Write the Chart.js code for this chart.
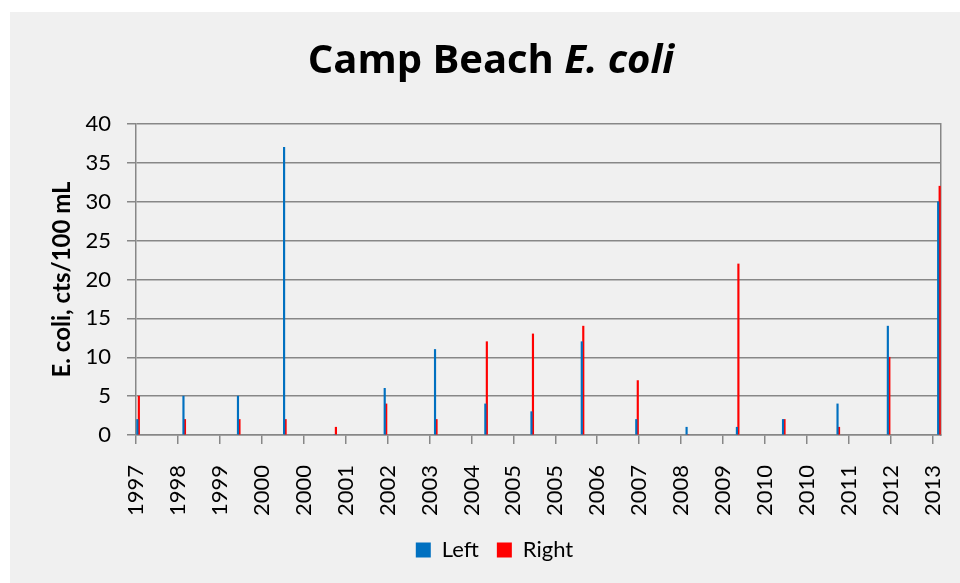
<!DOCTYPE html>
<html>
<head>
<meta charset="utf-8">
<title>Camp Beach E. coli</title>
<script src="https://cdn.jsdelivr.net/npm/chart.js@4.4.1/dist/chart.umd.min.js"></script>
<style>
  html, body { margin: 0; padding: 0; background: #fff; }
  #wrap { position: absolute; left: 10px; top: 12px; width: 950px; height: 571px; background: #f0f0f0; }
</style>
</head>
<body>
<div id="wrap"><canvas id="ecoliChart"></canvas></div>
<script>
// one sampling month per summer, left and right side of the beach
const sampleMonths = ['1997-07', '1998-06', '1999-07', '2000-06', '2001-06', '2002-06',
    '2003-06', '2004-06', '2005-05', '2006-05', '2007-06', '2008-06', '2009-06',
    '2010-05', '2011-06', '2012-06', '2013-06'];
const leftCounts = [2, 5, 5, 37, 0, 6, 11, 4, 3, 12, 2, 1, 1, 2, 4, 14, 30];
const rightCounts = [5, 2, 2, 2, 1, 4, 2, 12, 13, 14, 7, 0, 22, 2, 1, 10, 32];

// date axis: a tick every 10 months starting July 1997
const tickLabels = ['1997', '1998', '1999', '2000', '2000', '2001', '2002', '2003', '2004',
    '2005', '2005', '2006', '2007', '2008', '2009', '2010', '2010', '2011', '2012', '2013'];
const axisMonths = 192;

const FONT = 'Lato, "Open Sans", sans-serif';
const TITLE_FONT = '"Open Sans", Lato, sans-serif';
const gridColor = '#878787';

// months since July 1997, bar centred in its month
function monthPos(s) {
    const [y, m] = s.split('-').map(Number);
    return (y - 1997) * 12 + (m - 7) + 0.5;
}

const leftData = sampleMonths.map((s, i) => ({ x: monthPos(s), y: leftCounts[i] }));
const rightData = sampleMonths.map((s, i) => ({ x: monthPos(s), y: rightCounts[i] }));

// title with the italic species name
const titlePlugin = {
    id: 'mixedTitle',
    afterDraw(chart) {
        const ctx = chart.ctx;
        const plain = 'Camp Beach ';
        const ital = 'E. coli';
        ctx.save();
        ctx.fillStyle = '#000';
        ctx.textBaseline = 'alphabetic';
        ctx.textAlign = 'left';
        ctx.font = 'bold 40px ' + TITLE_FONT;
        const w1 = ctx.measureText(plain).width;
        ctx.font = 'italic bold 40px ' + TITLE_FONT;
        const w2 = ctx.measureText(ital).width;
        const x = 481 - (w1 + w2) / 2;
        ctx.font = 'bold 40px ' + TITLE_FONT;
        ctx.fillText(plain, x, 61);
        ctx.font = 'italic bold 40px ' + TITLE_FONT;
        ctx.fillText(ital, x + w1, 61);
        ctx.restore();
    }
};

const ctx = document.getElementById('ecoliChart').getContext('2d');
new Chart(ctx, {
    type: 'bar',
    data: {
        datasets: [{
            label: 'Left',
            data: leftData,
            backgroundColor: '#0070c0',
            barThickness: 1.5
        }, {
            label: 'Right',
            data: rightData,
            backgroundColor: '#ff0000',
            barThickness: 1.5
        }]
    },
    options: {
        responsive: true,
        maintainAspectRatio: false,
        animation: false,
        layout: {
            padding: { left: 38, right: 19, top: 112, bottom: 12 }
        },
        plugins: {
            title: { display: false },
            tooltip: { enabled: false },
            legend: {
                position: 'bottom',
                labels: {
                    color: '#000',
                    boxWidth: 15,
                    boxHeight: 15,
                    padding: 18,
                    font: { family: FONT, size: 22 }
                }
            }
        },
        scales: {
            x: {
                type: 'linear',
                offset: false,
                min: 0,
                max: axisMonths,
                afterFit: (scale) => {
                    scale.height = 86;
                    // rotated labels fit inside the layout padding
                    scale.paddingLeft = 0;
                    scale.paddingRight = 0;
                },
                ticks: {
                    stepSize: 10,
                    includeBounds: false,
                    autoSkip: false,
                    maxRotation: 90,
                    minRotation: 90,
                    padding: 21,
                    color: '#000',
                    font: { family: FONT, size: 22 },
                    callback: (v) => tickLabels[v / 10]
                },
                grid: {
                    offset: false,
                    drawOnChartArea: false,
                    tickLength: 9,
                    color: gridColor,
                    lineWidth: 1.5
                },
                border: { color: gridColor, width: 1.5 }
            },
            y: {
                min: 0,
                max: 40,
                afterFit: (scale) => { scale.width = 88; },
                ticks: {
                    stepSize: 5,
                    padding: 16,
                    color: '#000',
                    font: { family: FONT, size: 22 }
                },
                grid: {
                    color: gridColor,
                    lineWidth: 1.5,
                    tickLength: 9
                },
                border: { color: gridColor, width: 1.5 },
                title: {
                    display: true,
                    text: 'E. coli, cts/100 mL',
                    color: '#000',
                    padding: { top: 0, bottom: 0 },
                    font: { family: FONT, size: 24, weight: 'bold' }
                }
            },
            // right-hand frame line of the plot area
            y2: {
                position: 'right',
                min: 0,
                max: 40,
                afterFit: (scale) => { scale.width = 0; },
                ticks: { display: false },
                grid: { drawOnChartArea: false, drawTicks: false },
                border: { color: gridColor, width: 1.5 }
            }
        }
    },
    plugins: [titlePlugin]
});
</script>
</body>
</html>
